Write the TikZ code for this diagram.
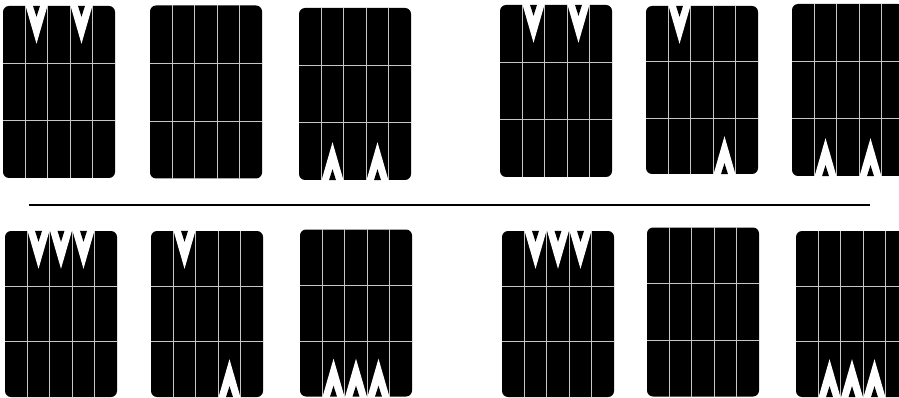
\documentclass[tikz,border=0pt]{standalone}
\usepackage{tikz}
\usetikzlibrary{calc}

\begin{document}
\begin{tikzpicture}[
  x=1pt, y=-1pt,
  card/.style   ={rectangle, fill=black, rounded corners=6pt, minimum width=112pt, inner sep=0pt},
  gridline/.style={draw=gray!45, line width=0.8pt},
  notch/.style  ={fill=white},
  divider/.style={draw=black, line width=1.6pt}
]

\useasboundingbox (0,0) rectangle (899,398);
\clip (0,0) rectangle (899,398);

%% Cards: name / centre x / centre y / height (top row, then bottom row)
\foreach \n/\x/\y/\h in {c1/59/92/172, c2/206/92/173, c3/355/94/172,
                         c4/556/91/172, c5/702/90/168, c6/848/90/172,
                         c7/61/314/166, c8/207/314/166, c9/356/313/167,
                         c10/558/314/166, c11/703/312/169, c12/852/314/166}{
  \node[card, minimum height=\h pt] (\n) at (\x,\y) {};
}

%% Grid: 5 columns, 3 rows on every card
\foreach \n in {c1,c2,c3,c4,c5,c6,c7,c8,c9,c10,c11,c12}{
  \foreach \f in {0.2,0.4,0.6,0.8}
    \draw[gridline] ($(\n.north west)!\f!(\n.north east)$) -- ($(\n.south west)!\f!(\n.south east)$);
  \foreach \f in {0.333,0.667}
    \draw[gridline] ($(\n.north west)!\f!(\n.south west)$) -- ($(\n.north east)!\f!(\n.south east)$);
}

%% Notches from the top edge (card / column)
\foreach \n/\k in {c1/2, c1/4, c4/2, c4/4, c5/2, c7/2, c7/3, c7/4,
                   c8/2, c10/2, c10/3, c10/4}{
  \fill[notch] ($(\n.north west)!{0.2*(\k-1)}!(\n.north east)+(0,-1)$)
    -- ($(\n.north west)!{0.2*\k-0.1}!(\n.north east)+(0,38)$)
    -- ($(\n.north west)!{0.2*\k}!(\n.north east)+(0,-1)$) -- cycle;
  \fill[black] ($(\n.north west)!{0.2*\k-0.1}!(\n.north east)+(-3.5,0)$)
    -- ++(3.5,11) -- ++(3.5,-11) -- cycle;
}

%% Notches from the bottom edge (card / column)
\foreach \n/\k in {c3/2, c3/4, c5/4, c6/2, c6/4, c8/4,
                   c9/2, c9/3, c9/4, c12/2, c12/3, c12/4}{
  \fill[notch] ($(\n.south west)!{0.2*(\k-1)}!(\n.south east)+(0,1)$)
    -- ($(\n.south west)!{0.2*\k-0.1}!(\n.south east)+(0,-38)$)
    -- ($(\n.south west)!{0.2*\k}!(\n.south east)+(0,1)$) -- cycle;
  \fill[black] ($(\n.south west)!{0.2*\k-0.1}!(\n.south east)+(-3.5,0)$)
    -- ++(3.5,-11) -- ++(3.5,11) -- cycle;
}

%% Dividing rule between the two rows
\coordinate (ruleL) at (29,205);
\coordinate (ruleR) at (870,205);
\draw[divider] (ruleL) -- (ruleR);

\end{tikzpicture}
\end{document}
